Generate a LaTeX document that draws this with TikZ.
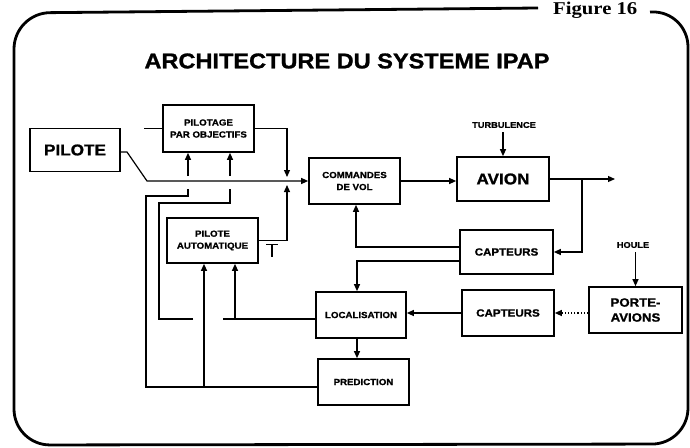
\documentclass[tikz,border=0pt]{standalone}
\usepackage{fontspec}
\newfontfamily\hv{Liberation Sans}[FakeStretch=1.1, BoldFeatures={FakeBold=1.2}]
\newfontfamily\tms{Liberation Serif}[FakeStretch=1.15]
\usetikzlibrary{arrows.meta}
\tikzset{
  box/.style={draw, line width=1.7pt, inner sep=0pt, align=center},
  conn/.style={line width=1.2pt},
  arr/.style={-{Triangle[length=7pt,width=6pt]}},
  frame/.style={line width=2.8pt},
  smallfont/.style={font=\hv\bfseries\fontsize{8.8}{12}\selectfont},
  capfont/.style={font=\hv\bfseries\fontsize{10.5}{12}\selectfont},
  bigfont/.style={font=\hv\bfseries\fontsize{15.6}{18}\selectfont},
  labelfont/.style={font=\hv\bfseries\fontsize{8.4}{10}\selectfont, inner sep=0pt},
}
\begin{document}
\begin{tikzpicture}[x=1pt,y=-1pt]
\useasboundingbox (0,0) rectangle (690,447);
% frame
\draw[frame, rounded corners=36pt] (538,8) -- (14,13) -- (14,445) -- (688,444) -- (688,11) -- (650,12);
\node[font=\tms\bfseries\fontsize{18}{18}\selectfont, anchor=base west, inner sep=0pt] (fig) at (553,14) {Figure 16};
\node[font=\hv\bfseries\fontsize{21.4}{24}\selectfont, inner sep=0pt] (title) at (347,61) {ARCHITECTURE DU SYSTEME IPAP};

% boxes
\node[box, bigfont, minimum width=90pt, minimum height=43pt] (pil) at (75,150) {PILOTE};
\node[box, smallfont, minimum width=91pt, minimum height=47pt] (pob) at (208.5,128.5) {PILOTAGE\\PAR OBJECTIFS};
\node[box, smallfont, minimum width=91pt, minimum height=45pt] (pa) at (212.5,240.5) {PILOTE\\AUTOMATIQUE};
\node[box, smallfont, minimum width=91pt, minimum height=46pt] (cdv) at (354.5,181) {COMMANDES\\DE VOL};
\node[box, bigfont, minimum width=92pt, minimum height=44pt] (avion) at (503,179) {AVION};
\node[box, capfont, minimum width=93pt, minimum height=44pt] (cap1) at (506.5,252) {CAPTEURS};
\node[box, smallfont, minimum width=90pt, minimum height=46pt] (loc) at (361,315) {LOCALISATION};
\node[box, smallfont, minimum width=91pt, minimum height=46pt] (pred) at (363.5,382) {PREDICTION};
\node[box, capfont, minimum width=92pt, minimum height=46pt] (cap2) at (508,313) {CAPTEURS};
\node[box, font=\hv\bfseries\fontsize{12}{15}\selectfont, minimum width=93pt, minimum height=46pt] (pav) at (635.5,310) {PORTE-\\AVIONS};
\node[labelfont] (turb) at (504,125) {TURBULENCE};
\node[labelfont] (houle) at (633,245) {HOULE};

% coordinates
\coordinate (j) at (287,181);
\coordinate (out) at (615,179);
\coordinate (br) at (582,179);
\coordinate (stub) at (144,128.5);

% main chain
\draw[conn,arr] ([yshift=-2pt]pil.east) -- (127,152) -- (147,181) -- (cdv.west);
\draw[conn,arr] (pob.east) -| ([yshift=4pt]j);
\draw[conn,arr] (pa.east) -| ([yshift=-4pt]j);
\draw[conn] (stub) -- (pob.west);
\draw[conn] (266,244.5) -- (278,244.5) (272,244.5) -- (272,257);
\draw[conn,arr] (cdv.east) -- (avion.west |- cdv.east);
\draw[conn,arr,shorten <=4pt] (turb.south -| avion.north) -- (avion.north);
\draw[conn,arr] (avion.east) -- (out);
\draw[conn,arr] (br) |- (cap1.east);
\draw[conn,arr] ([yshift=5pt]cap1.west) -| ([xshift=1.5pt]cdv.south);
\draw[conn,arr] ([yshift=-9pt]cap1.west) -| ([xshift=-4pt]loc.north);
\draw[conn,arr] ([xshift=-4pt]loc.south) -- ([xshift=-4pt]loc.south |- pred.north);
\draw[conn,arr] (cap2.west) -- (loc.east |- cap2.west);
\draw[conn,arr,dotted] (pav.west |- cap2.east) -- (cap2.east);
\draw[conn,arr,shorten <=4pt] (houle.south -| pav.north) -- (pav.north);

% left network: prediction
\draw[conn] ([yshift=-5pt]pred.west) -- (146,387) -- (146,196) -- (188,196) -- (188,189);
\draw[conn,arr] (188,176) -- ([xshift=-20.5pt]pob.south);
\draw[conn,arr] (204,387) -- ([xshift=-8.5pt]pa.south);
% left network: localisation
\draw[conn] ([yshift=-4pt]loc.west) -- (223,319);
\draw[conn] (193,319) -- (159,319) -- (159,203) -- (230,203) -- (230,189);
\draw[conn,arr] (230,176) -- ([xshift=21.5pt]pob.south);
\draw[conn,arr] (235,319) -- ([xshift=22.5pt]pa.south);
\end{tikzpicture}
\end{document}
